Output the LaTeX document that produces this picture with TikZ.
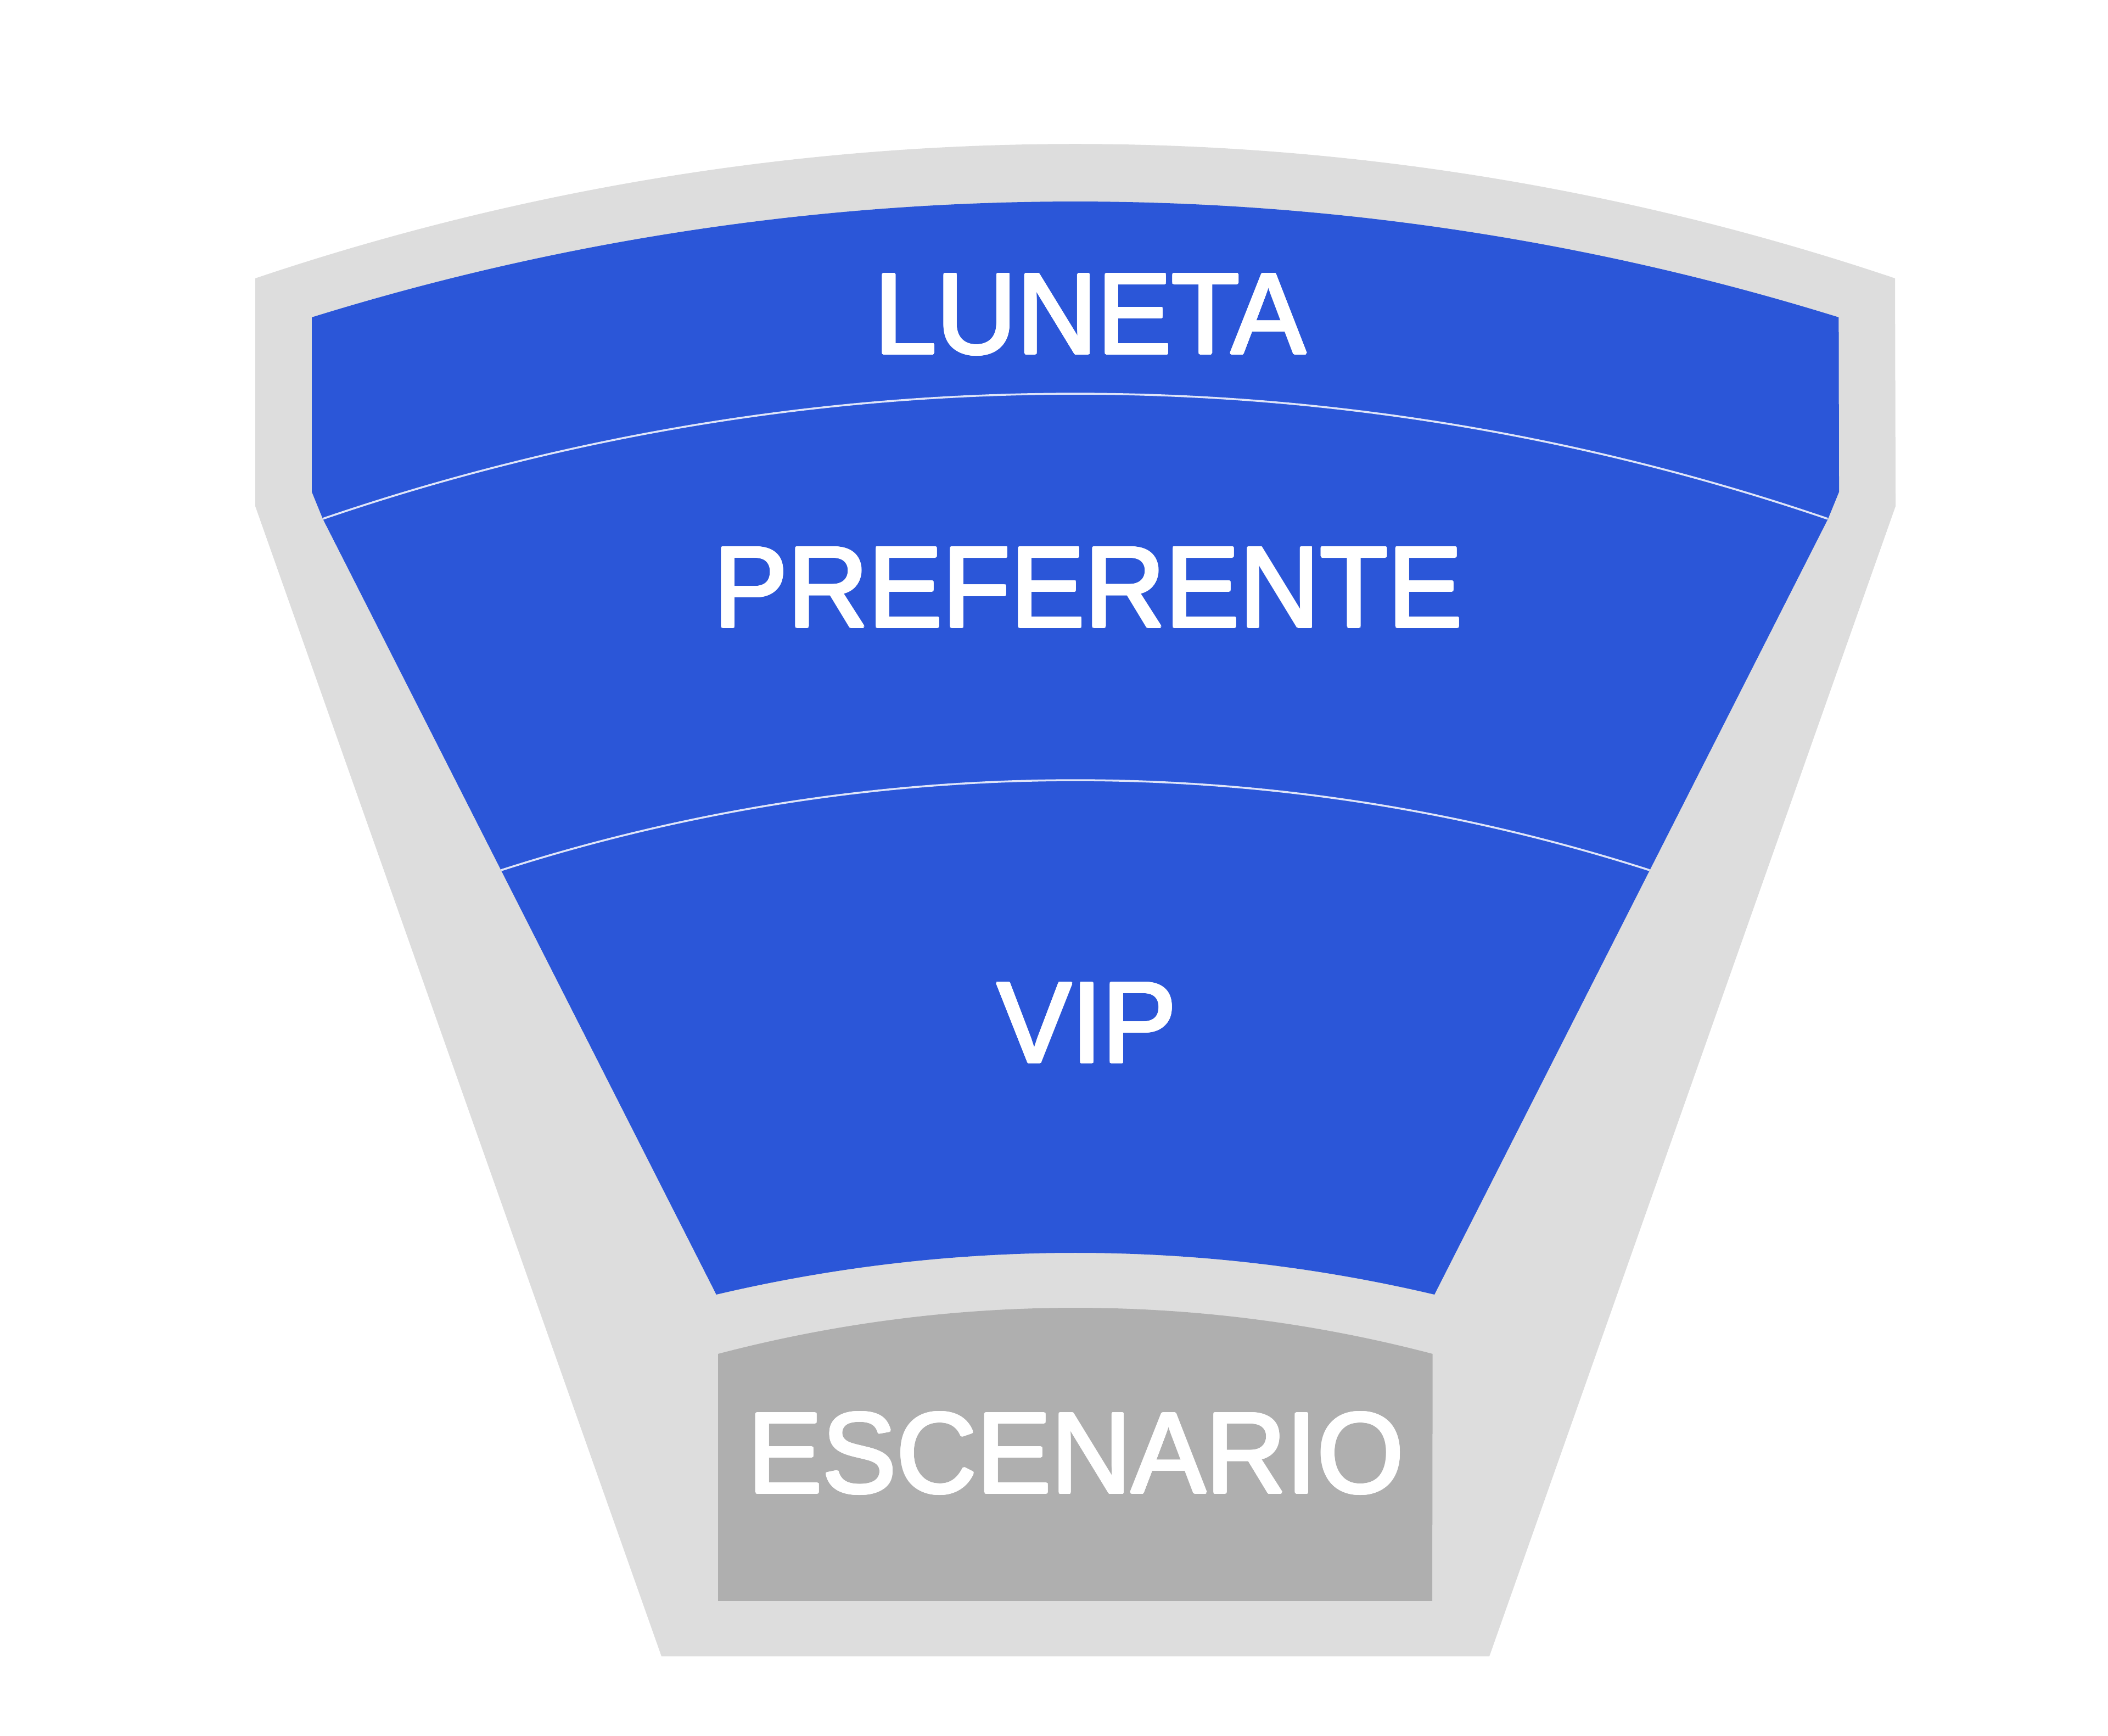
\documentclass[tikz,border=0pt]{standalone}
\usepackage{fontspec}
\setmainfont{Liberation Sans}
\usepackage{tikz}
\usepackage{contour}
\contourlength{0.8pt}
\definecolor{zoneblue}{HTML}{2B56D8}
\definecolor{wallgray}{HTML}{DDDDDD}
\definecolor{stagegray}{HTML}{AFAFAF}
\newcommand{\zonetext}[1]{\contour{white}{#1}}
\tikzset{
	wall/.style={fill=wallgray,draw=none},
	zone/.style={fill=zoneblue,draw=none},
	stage/.style={fill=stagegray,draw=none},
	divider/.style={draw=white,line width=1pt,opacity=0.85},
	zone label/.style={font=\fontsize{59.5}{62}\selectfont,text=white,anchor=base,inner sep=0pt,xscale=0.97}
}

\begin{document}
\begin{tikzpicture}
	    \useasboundingbox (0,0) rectangle (38.4,31.62);
	    \fill[white] (0,0) rectangle (38.4,31.62);

	    \coordinate (kl) at (5.88,22.17);
	    \coordinate (kr) at (33.30,22.17);
	    \coordinate (ml) at (9.13,15.77);

	    \path[wall] (4.65,26.55) arc[start angle=108.62,end angle=71.38,radius=46.78]
	        -- (34.53,22.40) -- (27.13,1.45) -- (12.05,1.45) -- (4.65,22.40) -- cycle;

	    \path[zone] (5.68,25.84) arc[start angle=107.25,end angle=72.75,radius=46.90]
	        -- (33.50,22.66) -- (kr) -- (26.13,8.04)
	        arc[start angle=76.74,end angle=103.26,radius=28.52]
	        -- (kl) -- (5.68,22.66) -- cycle;

	    \draw[divider] (kl) arc[start angle=108.88,end angle=71.12,radius=42.36];
	    \draw[divider] (ml) arc[start angle=107.82,end angle=72.18,radius=34.18];

	    \path[stage] (13.08,2.46) -- (13.08,6.96)
	        arc[start angle=104.70,end angle=75.30,radius=25.65] -- (26.09,2.46) -- cycle;

	    \node[zone label] (luneta) at (19.86,25.18) {\zonetext{LUNETA}};
	    \node[zone label] (preferente) at (19.82,20.20) {\zonetext{PREFERENTE}};
	    \node[zone label] (vip) at (19.80,12.27) {\zonetext{VIP}};
	    \node[zone label] (escenario) at (19.60,4.43) {\zonetext{ESCENARIO}};
\end{tikzpicture}
\end{document}
